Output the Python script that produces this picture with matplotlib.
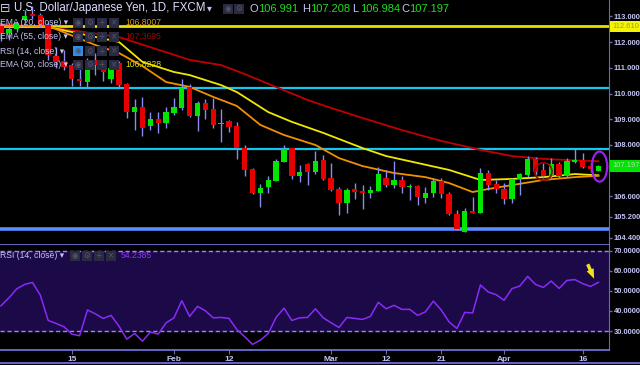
import numpy as np
import pandas as pd
import matplotlib
matplotlib.use('Agg')
import matplotlib.pyplot as plt
from matplotlib.patches import Ellipse, Rectangle

plt.rcParams['font.family'] = ['Liberation Sans', 'DejaVu Sans']

# trading days shown on the chart (Jan 2 .. Apr 18, 2018)
dates = pd.bdate_range('2018-01-02', '2018-04-18')

opens = [112.63, 112.34, 112.50, 112.85, 113.10, 113.05, 112.67, 111.46, 111.27, 111.10,
         110.57, 110.46, 111.30, 111.15, 110.57, 111.19, 110.37, 109.27, 109.49, 108.74,
         109.02, 108.84, 109.26, 109.45, 110.25, 109.13, 109.62, 109.39, 108.81, 108.93,
         108.74, 107.87, 107.07, 106.14, 106.35, 106.60, 107.35, 107.87, 106.79, 107.26,
         106.96, 107.42, 106.70, 106.28, 105.75, 106.28, 106.21, 106.12, 106.22, 106.70,
         106.44, 106.64, 106.38, 106.40, 105.95, 106.12, 106.61, 106.09, 105.31, 104.63,
         105.44, 105.34, 106.92, 106.48, 106.29, 105.90, 106.67, 106.83, 107.44, 107.03,
         106.81, 107.26, 106.81, 107.35, 107.42, 107.18, 106.991]
highs = [112.80, 112.60, 112.80, 113.25, 113.40, 113.15, 112.80, 111.80, 111.70, 111.20,
         111.04, 111.40, 111.58, 111.20, 111.10, 111.25, 110.42, 109.79, 109.86, 109.27,
         109.27, 109.49, 109.82, 110.57, 110.37, 109.72, 109.79, 109.84, 109.40, 108.97,
         108.88, 108.00, 107.10, 106.47, 106.79, 107.44, 108.00, 107.90, 107.22, 107.30,
         107.77, 107.61, 107.29, 106.35, 106.31, 106.53, 106.44, 106.40, 107.13, 107.03,
         107.38, 106.81, 106.48, 106.44, 106.35, 106.70, 106.70, 106.16, 105.47, 105.54,
         105.99, 107.12, 107.03, 106.64, 106.53, 106.70, 106.92, 107.57, 107.54, 107.29,
         107.48, 107.33, 107.51, 107.87, 107.70, 107.29, 107.208]
lows = [112.05, 112.10, 112.40, 112.75, 112.90, 112.60, 111.30, 111.00, 110.90, 110.30,
        110.30, 110.25, 110.72, 110.50, 110.40, 110.20, 109.06, 108.58, 108.36, 108.58,
        108.48, 108.67, 109.17, 109.36, 109.10, 108.54, 109.01, 108.67, 108.13, 108.52,
        107.47, 106.79, 106.08, 105.60, 106.14, 106.60, 107.35, 106.67, 106.57, 106.44,
        106.87, 106.64, 106.22, 105.28, 105.37, 105.90, 105.50, 105.95, 106.21, 106.38,
        106.32, 106.12, 105.86, 105.67, 105.76, 105.99, 105.93, 105.28, 104.69, 104.63,
        105.34, 105.34, 106.25, 106.14, 105.70, 105.76, 106.05, 106.77, 106.83, 106.70,
        106.70, 106.70, 106.77, 107.29, 107.09, 106.96, 106.984]
closes = [112.34, 112.50, 112.74, 113.02, 113.03, 112.67, 111.50, 111.23, 111.04, 110.55,
          110.50, 111.30, 111.10, 110.84, 111.00, 110.33, 109.28, 109.49, 108.65, 109.01,
          108.84, 109.27, 109.47, 110.22, 109.13, 109.62, 109.36, 108.78, 108.87, 108.71,
          107.87, 107.03, 106.14, 106.34, 106.64, 107.39, 107.84, 106.79, 106.94, 106.96,
          107.39, 106.67, 106.25, 105.76, 106.25, 106.18, 106.12, 106.25, 106.87, 106.44,
          106.64, 106.38, 106.40, 105.99, 106.14, 106.61, 106.08, 105.30, 104.73, 105.43,
          105.34, 106.92, 106.44, 106.29, 105.90, 106.67, 106.86, 107.44, 106.96, 106.81,
          107.26, 106.81, 107.38, 107.42, 107.16, 107.05, 107.197]

# moving averages (bar index, value)
ema20_idx = [0, 6, 12, 15, 18, 21, 24, 27, 30, 33, 36, 40, 43, 46, 50, 54, 57, 60, 62, 65, 69, 73, 76]
ema20_val = [112.63, 112.63, 111.89, 111.58, 111.07, 110.45, 110.26, 109.87, 109.52, 108.78, 108.39,
             108.00, 107.49, 107.18, 106.91, 106.75, 106.52, 106.17, 106.29, 106.44, 106.64, 106.75, 106.80]
ema30_idx = [0, 6, 15, 18, 22, 24, 28, 30, 34, 37, 41, 46, 49, 53, 57, 61, 65, 69, 73, 76]
ema30_val = [112.63, 112.59, 112.01, 111.23, 110.84, 110.72, 110.33, 110.06, 109.28, 108.90, 108.47,
             107.88, 107.57, 107.30, 107.03, 106.64, 106.68, 106.75, 106.87, 106.82]
ema55_idx = [0, 7, 15, 24, 28, 31, 39, 42, 46, 51, 56, 61, 65, 69, 73, 76]
ema55_val = [112.71, 112.55, 112.20, 111.31, 111.11, 110.76, 109.75, 109.44, 109.05, 108.58, 108.16,
             107.81, 107.57, 107.46, 107.40, 107.37]

rsi = [42.6, 46.5, 51.0, 53.2, 54.2, 47.9, 35.3, 33.8, 32.2, 28.5,
       27.7, 40.5, 38.6, 36.3, 37.8, 32.5, 26.0, 28.8, 25.0, 29.5,
       28.5, 34.1, 36.6, 45.1, 37.3, 42.3, 40.1, 36.6, 36.8, 36.3,
       30.8, 27.2, 23.4, 25.5, 28.8, 36.8, 41.4, 35.3, 36.6, 36.8,
       41.1, 36.6, 34.1, 31.8, 36.8, 36.3, 35.8, 37.3, 44.3, 41.1,
       42.8, 40.8, 40.8, 37.8, 39.6, 44.9, 40.5, 34.6, 31.3, 39.3,
       39.0, 52.9, 49.4, 48.1, 45.3, 51.1, 52.4, 57.2, 53.2, 51.7,
       54.9, 51.2, 55.2, 55.6, 53.6, 52.2, 54.24]

cyan_levels = [110.23, 107.86]
yellow_level = 112.61
blue_level = 104.72

price_ticks = [113, 112, 111, 110, 109, 108, 106, 105.2, 104.4]
rsi_ticks = [30, 40, 50, 60, 70]
xtick_days = ['2018-01-15', '2018-02-01', '2018-02-12', '2018-03-01', '2018-03-12',
              '2018-03-21', '2018-04-02', '2018-04-16']
xtick_labels = ['15', 'Feb', '12', 'Mar', '12', '21', 'Apr', '16']

GREEN = '#00e600'
RED = '#e60000'
WICK = '#8a8cf0'
LAV = '#c4c4f4'
AXC = '#6a6ab0'
TICKFS = 5.4

W, H = 640.0, 365.0


def fx(x):
    return x / W


def fy(y):
    return 1 - y / H


fig = plt.figure(figsize=(6.4, 3.65), dpi=100, facecolor='black')
ax = fig.add_axes([0, fy(245), fx(609), 245 / H])
ax2 = fig.add_axes([0, fy(350), fx(609), 105 / H], sharex=ax)

for a in (ax, ax2):
    a.set_facecolor('black')
    for s in ('left', 'top'):
        a.spines[s].set_visible(False)
    a.spines['right'].set_color(AXC)
    a.spines['bottom'].set_color('#7a78e8')
    a.spines['bottom'].set_linewidth(1.2)
    a.yaxis.tick_right()
    a.tick_params(axis='y', colors=AXC, length=2.5, width=1, pad=0.8, labelsize=TICKFS,
                  labelcolor=LAV)

# ---- price pane ----
idx = np.arange(len(closes))
o, h, l, c = map(np.array, (opens, highs, lows, closes))
cols = np.where(c >= o, GREEN, RED)

ax.axhline(yellow_level, color='#e8e000', lw=2, zorder=1)
for lv in cyan_levels:
    ax.axhline(lv, color='#10c8f0', lw=1.6, zorder=1)
ax.axhline(blue_level, color='#5a8cff', lw=2.6, zorder=1)

ax.plot(ema55_idx, ema55_val, color='#c00000', lw=1.3, zorder=2)
ax.plot(ema30_idx, ema30_val, color='#f0e800', lw=1.3, zorder=2)
ax.plot(ema20_idx, ema20_val, color='#f09000', lw=1.3, zorder=2)

ax.vlines(idx, l, h, color=WICK, lw=1, zorder=3)
ax.bar(idx, np.maximum(np.abs(c - o), 0.03), bottom=np.minimum(o, c), width=0.68,
       color=cols, linewidth=0, zorder=4)

ax.add_patch(Ellipse((69.0, 106.97), 2.2, 0.68, fill=False, ec='#a00000', lw=1.2, zorder=5))
ax.add_patch(Ellipse((76.15, 107.16), 1.95, 1.17, fill=False, ec='#9a22e8', lw=1.6, zorder=5))

ax.set_xlim(-0.127, 77.35)
ax.set_ylim(104.11, 113.64)
ax.set_yticks(price_ticks)
ax.set_yticklabels([f'{v:.3f}' for v in price_ticks], fontweight='bold')
ax.tick_params(axis='x', bottom=False, labelbottom=False)

yt = ax.get_yaxis_transform()
ax.text(1.006, yellow_level, '112.610', transform=yt, ha='left', va='center', fontsize=TICKFS,
        color='#9c9c3c', clip_on=False, zorder=10,
        bbox=dict(boxstyle='square,pad=0.3', fc='#f4f400', ec='none'))
ax.text(1.006, closes[-1], '107.197', transform=yt, ha='left', va='center', fontsize=TICKFS,
        color='#b4dcb4', clip_on=False, zorder=10,
        bbox=dict(boxstyle='square,pad=0.35', fc='#00e400', ec='none'))

# ---- RSI pane ----
ax2.axhspan(30, 70, color='#1c0a48', zorder=0)
for lv in (30, 70):
    ax2.axhline(lv, color='#9a88f0', lw=1, ls=(0, (3, 2)), zorder=1)
ax2.plot(idx, rsi, color='#8a2af8', lw=1.1, zorder=3)
ax2.annotate('', xy=(75.6, 54.8), xytext=(74.5, 64.5),
             arrowprops=dict(arrowstyle='simple,head_width=0.55,head_length=0.7,tail_width=0.25',
                             color='#f0e020', lw=0), zorder=5)
ax2.set_ylim(20.6, 72.8)
ax2.set_yticks(rsi_ticks)
ax2.set_yticklabels([f'{v:.4f}' for v in rsi_ticks], fontweight='bold')
ax2.spines['top'].set_visible(False)

xt = [dates.get_loc(pd.Timestamp(d)) for d in xtick_days]
ax2.set_xticks(xt)
ax2.set_xticklabels(xtick_labels, fontweight='bold')
ax2.tick_params(axis='x', colors=AXC, length=3, pad=1, labelsize=6, labelcolor=LAV)

fig.add_artist(plt.Line2D([0, 1], [fy(363), fy(363)], color='#7a78e8', lw=1.2,
                          transform=fig.transFigure))

# ---- header and legend texts ----
fig.text(fx(0), fy(8.5), '\u229f', color=LAV, fontsize=9, va='center', ha='left',
         family='DejaVu Sans')
fig.text(fx(14), fy(8.5), 'U.S. Dollar/Japanese Yen, 1D, FXCM', color='#dcdcff',
         fontsize=8.3, va='center', ha='left')
fig.text(fx(207), fy(8.5), '\u25be', color=LAV, fontsize=7, va='center', ha='left',
         family='DejaVu Sans')


def icon(x, y, fc='#2a2a40', ch=''):
    fig.add_artist(Rectangle((fx(x), fy(y + 5)), 9.5 / W, 10 / H, transform=fig.transFigure,
                             facecolor=fc, edgecolor='none'))
    if ch:
        fig.text(fx(x + 4.75), fy(y), ch, color='#55556e', fontsize=5.5, ha='center',
                 va='center', family='DejaVu Sans')


icon(223, 8.5, ch='\u25c9')
icon(234, 8.5, ch='\u2699')

ohlc = [(250, 'O', '106.991'), (302, 'H', '107.208'), (352, 'L', '106.984'), (401, 'C', '107.197')]
for x, k, v in ohlc:
    fig.text(fx(x), fy(8.5), k, color=LAV, fontsize=8, va='center', ha='left')
    fig.text(fx(x + 8), fy(8.5), v, color='#22dd22', fontsize=8, va='center', ha='left')

legend_rows = [(22.5, 'EMA (20, close)', '106.8007', '#d49a10'),
               (36.5, 'EMA (55, close)', '107.3695', '#a80000'),
               (51, 'RSI (14, close)', '', ''),
               (64.5, 'EMA (30, close)', '106.8228', '#d8d800')]
for y, name, val, vc in legend_rows:
    fig.text(fx(0), fy(y), name + ' \u25be', color=LAV, fontsize=6.2, va='center', ha='left',
             zorder=10)
    first = '#2d8ee8' if name.startswith('RSI') else '#2a2a40'
    icon(73, y, fc=first, ch='\u25c9')
    icon(85, y, ch='\u2699')
    icon(97, y, ch='+')
    icon(109, y, ch='\u00d7')
    if val:
        fig.text(fx(125), fy(y), val, color=vc, fontsize=6.2, va='center', ha='left', zorder=10)

fig.text(fx(0), fy(255.5), 'RSI (14, close) \u25be', color=LAV, fontsize=6.2, va='center',
         ha='left')
icon(70, 255.5, ch='\u25c9')
icon(82, 255.5, ch='\u2699')
icon(94, 255.5, ch='+')
icon(106, 255.5, ch='\u00d7')
fig.text(fx(121), fy(255.5), '54.2385', color='#8a3af0', fontsize=6.2, va='center', ha='left')

fig.savefig('out.png', dpi=100, facecolor='black')
